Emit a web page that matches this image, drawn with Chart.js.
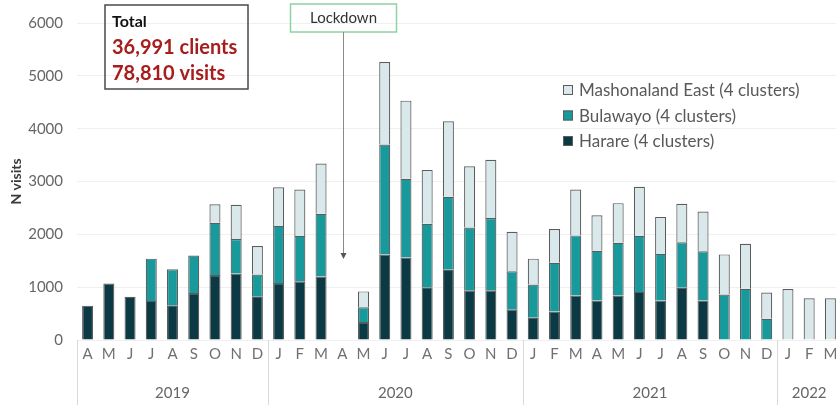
<!DOCTYPE html>
<html>
<head>
<meta charset="utf-8">
<script src="https://cdn.jsdelivr.net/npm/chart.js@4/dist/chart.umd.min.js"></script>
<style>
  html, body { margin: 0; padding: 0; background: #ffffff; overflow: hidden; }
  #wrap { width: 836px; height: 405px; overflow: hidden; position: relative; }
  canvas { display: block; }
</style>
</head>
<body>
<div id="wrap"><canvas id="c" width="845" height="405"></canvas></div>
<script>
// ---- data ----
const months = ['A','M','J','J','A','S','O','N','D',
                'J','F','M','A','M','J','J','A','S','O','N','D',
                'J','F','M','A','M','J','J','A','S','O','N','D',
                'J','F','M'];
const yearLabels = ['2019','2020','2021','2022'];
const monthsPerYear = [9, 12, 12, 3];

const harare = [650, 1070, 820, 740, 660, 890, 1230, 1260, 830,
                1080, 1110, 1200, null, 340, 1620, 1560, 1000, 1330, 940, 940, 580,
                420, 540, 840, 750, 840, 910, 750, 990, 750, null, null, null,
                null, null, null];
const bulawayo = [null, null, null, 800, 680, 710, 990, 650, 410,
                  1080, 860, 1190, null, 280, 2080, 1490, 1200, 1380, 1190, 1370, 720,
                  630, 920, 1140, 940, 1000, 1060, 880, 860, 930, 860, 970, 400,
                  null, null, null];
const mashEast = [null, null, null, null, null, null, 350, 650, 540,
                  730, 880, 950, null, 300, 1560, 1480, 1020, 1430, 1160, 1100, 750,
                  490, 640, 870, 670, 750, 930, 700, 730, 750, 760, 850, 500,
                  965, 790, 790];
const seriesLabels = ['Harare (4 clusters)', 'Bulawayo (4 clusters)', 'Mashonaland East (4 clusters)'];
const yTicks = [0, 1000, 2000, 3000, 4000, 5000, 6000];
const totalBoxLines = ['Total', '36,991 clients', '78,810 visits'];
const lockdownLabel = 'Lockdown';
const lockdownIndex = 12; // April 2020

// ---- styles ----
const FONT = 'Lato, "Open Sans", sans-serif';
const colors = ['#0c3a44', '#18999b', '#d9e8ea'];
const edge = '#5c5c5c';

const overlay = {
  id: 'overlay',
  afterDraw(chart) {
    const ctx = chart.ctx;
    const x = chart.scales.x;
    const area = chart.chartArea;
    const half = (x.getPixelForValue(1) - x.getPixelForValue(0)) / 2;

    // year group separators and labels
    ctx.save();
    ctx.strokeStyle = '#d9d9d9';
    ctx.lineWidth = 1;
    let start = 0;
    ctx.font = '15px ' + FONT;
    ctx.fillStyle = '#666666';
    ctx.textAlign = 'center';
    ctx.textBaseline = 'middle';
    yearLabels.forEach((yl, gi) => {
      const n = monthsPerYear[gi];
      const left = x.getPixelForValue(start) - half;
      const right = x.getPixelForValue(start + n - 1) + half;
      ctx.beginPath();
      ctx.moveTo(Math.round(left) + 0.5, area.bottom);
      ctx.lineTo(Math.round(left) + 0.5, 405);
      ctx.stroke();
      ctx.fillText(yl, (left + right) / 2, 393);
      start += n;
    });
    ctx.restore();

    // legend (reversed order)
    ctx.save();
    ctx.font = '17px ' + FONT;
    ctx.textBaseline = 'middle';
    ctx.textAlign = 'left';
    const lx = 563, ly0 = 90, lstep = 25.5;
    for (let k = 0; k < 3; k++) {
      const di = 2 - k;
      const y = ly0 + k * lstep;
      ctx.fillStyle = colors[di];
      ctx.fillRect(lx, y - 5, 10, 10);
      ctx.strokeStyle = edge;
      ctx.lineWidth = 1;
      ctx.strokeRect(lx + 0.5, y - 4.5, 9, 9);
      ctx.fillStyle = '#595959';
      ctx.fillText(chart.data.datasets[di].label, 579, y + 1);
    }
    ctx.restore();

    // Total box
    ctx.save();
    ctx.strokeStyle = '#4a4a4a';
    ctx.lineWidth = 1.5;
    ctx.strokeRect(105, 5, 143, 84);
    ctx.textAlign = 'left';
    ctx.textBaseline = 'alphabetic';
    ctx.fillStyle = '#111111';
    ctx.font = 'bold 16px ' + FONT;
    ctx.fillText(totalBoxLines[0], 112, 27);
    ctx.fillStyle = '#a71d1d';
    ctx.font = 'bold 20px ' + FONT;
    ctx.fillText(totalBoxLines[1], 112, 54);
    ctx.fillText(totalBoxLines[2], 112, 80);
    ctx.restore();

    // Lockdown box and arrow
    const ax = Math.round(x.getPixelForValue(lockdownIndex)) + 1.5;
    ctx.save();
    ctx.strokeStyle = '#8fd1a6';
    ctx.lineWidth = 1.5;
    ctx.strokeRect(ax - 53, 4, 106, 28);
    ctx.fillStyle = '#333333';
    ctx.font = '15px ' + FONT;
    ctx.textAlign = 'center';
    ctx.textBaseline = 'middle';
    ctx.fillText(lockdownLabel, ax, 18);
    ctx.strokeStyle = '#8a8a8a';
    ctx.lineWidth = 1;
    ctx.beginPath();
    ctx.moveTo(ax, 32);
    ctx.lineTo(ax, 254);
    ctx.stroke();
    ctx.fillStyle = '#555555';
    ctx.beginPath();
    ctx.moveTo(ax - 3, 253);
    ctx.lineTo(ax + 3, 253);
    ctx.lineTo(ax, 259);
    ctx.closePath();
    ctx.fill();
    ctx.restore();
  }
};

const seriesData = [harare, bulawayo, mashEast];
new Chart(document.getElementById('c'), {
  type: 'bar',
  data: {
    labels: months,
    datasets: seriesData.map((d, i) => ({
      label: seriesLabels[i],
      data: d,
      backgroundColor: colors[i],
      borderColor: edge,
      borderWidth: 1.2,
      barPercentage: 0.52,
      categoryPercentage: 1.0
    }))
  },
  options: {
    responsive: false,
    animation: false,
    layout: { padding: { top: 20, right: 4, left: 0, bottom: 0 } },
    plugins: { legend: { display: false }, tooltip: { enabled: false } },
    scales: {
      x: {
        stacked: true,
        grid: { display: false, drawTicks: false },
        border: { display: false },
        ticks: { color: '#707070', font: { family: FONT, size: 15 }, padding: 5, maxRotation: 0, autoSkip: false },
        afterFit(s) { s.height = 65; }
      },
      y: {
        stacked: true,
        min: 0, max: 6000,
        afterBuildTicks(s) { s.ticks = yTicks.map(v => ({ value: v })); },
        ticks: { color: '#666666', font: { family: FONT, size: 15 }, padding: 14, callback: (v) => String(v) },
        grid: { color: '#f0f0f0', drawTicks: false },
        border: { display: false },
        title: { display: true, text: 'N visits', color: '#3a3a3a', font: { family: FONT, size: 14, weight: 'bold' }, padding: { top: 8, bottom: 0 } },
        afterFit(s) { s.width = 77; }
      }
    }
  },
  plugins: [overlay]
});
</script>
</body>
</html>
